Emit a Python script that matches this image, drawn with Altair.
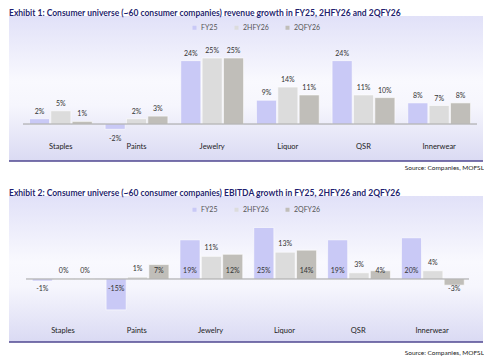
import altair as alt
import pandas as pd

categories = ["Staples", "Paints", "Jewelry", "Liquor", "QSR", "Innerwear"]
series = ["FY25", "2HFY26", "2QFY26"]

rev_fy25 = [2, -2, 24, 9, 24, 8]
rev_2hfy26 = [5, 2, 25, 14, 11, 7]
rev_2qfy26 = [1, 3, 25, 11, 10, 8]

ebitda_fy25 = [-1, -15, 19, 25, 19, 20]
ebitda_2hfy26 = [0, 1, 11, 13, 3, 4]
ebitda_2qfy26 = [0, 7, 12, 14, 4, -3]

title1 = "Exhibit 1: Consumer universe (~60 consumer companies) revenue growth in FY25, 2HFY26 and 2QFY26"
title2 = "Exhibit 2: Consumer universe (~60 consumer companies) EBITDA growth in FY25, 2HFY26 and 2QFY26"
source_text = "Source: Companies, MOFSL"

colors = ["#C9C9F6", "#DCDCDC", "#C0BEB9"]
FONT = "Lato"


def make_df(a, b, c):
    rows = []
    for i, cat in enumerate(categories):
        for s, vals in zip(series, [a, b, c]):
            v = vals[i]
            rows.append({"category": cat, "series": s, "value": v,
                         "label": f"{v}%", "base": 0})
    return pd.DataFrame(rows)


gradient = alt.LinearGradient(
    gradient="linear",
    stops=[
        alt.GradientStop(color="#E1E1F8", offset=0),
        alt.GradientStop(color="#F9F9FE", offset=0.45),
        alt.GradientStop(color="#F6F6FD", offset=0.62),
        alt.GradientStop(color="#DADAF3", offset=1),
    ],
    x1=0, x2=0, y1=0, y2=1,
)


def panel(df, title, width, height, ydom, xrange, legend_y, cat_y, src_y,
          bg_left, bg_right, ebitda=False):
    xs = alt.Scale(paddingInner=0.17, paddingOuter=0.085, range=xrange)
    x = alt.X("category:N", sort=categories, scale=xs, axis=None)
    xo = alt.XOffset("series:N", sort=series, scale=alt.Scale(paddingInner=0.06))
    ys = alt.Scale(domain=ydom, nice=False, zero=False)

    one = pd.DataFrame({"k": [0]})
    bg = alt.Chart(one).mark_rect(fill=gradient).encode(
        x=alt.value(bg_left), x2=alt.value(bg_right),
        y=alt.value(0), y2=alt.value(height))
    border = alt.Chart(one).mark_rule(color="#4F4790", strokeWidth=1.5).encode(
        x=alt.value(bg_left), x2=alt.value(bg_right), y=alt.value(height))
    src = alt.Chart(one).mark_text(align="right", baseline="middle", fontSize=6.5,
                                   font=FONT, color="#222").encode(
        x=alt.value(bg_right + 1), y=alt.value(src_y), text=alt.value(source_text))

    base = alt.Chart(df)
    bars = base.mark_bar(stroke="white", strokeWidth=0.6).encode(
        x=x, xOffset=xo,
        y=alt.Y("value:Q", scale=ys, axis=None),
        color=alt.Color("series:N", scale=alt.Scale(domain=series, range=colors),
                        legend=alt.Legend(orient="none", legendX=168, legendY=legend_y,
                                          direction="horizontal", title=None,
                                          symbolType="square", symbolSize=16,
                                          symbolStrokeWidth=0, labelFontSize=7,
                                          labelFont=FONT, labelColor="#555",
                                          labelOffset=3, columnPadding=15)),
    )
    zero = alt.Chart(pd.DataFrame({"base": [0]})).mark_rule(
        color="#A0A0A0", strokeWidth=1).encode(
        y=alt.Y("base:Q", scale=ys, axis=None),
        x=alt.value(xrange[0]), x2=alt.value(xrange[1]))

    tkw = dict(fontSize=7, font=FONT, color="#333")
    layers = [bg, border, src, bars, zero]
    if not ebitda:
        layers.append(base.transform_filter("datum.value >= 0").mark_text(
            baseline="bottom", dy=-4, **tkw).encode(
            x=x, xOffset=xo, y=alt.Y("value:Q", scale=ys, axis=None), text="label:N"))
        layers.append(base.transform_filter("datum.value < 0").mark_text(
            baseline="top", dy=6, **tkw).encode(
            x=x, xOffset=xo, y=alt.Y("value:Q", scale=ys, axis=None), text="label:N"))
    else:
        inb = "datum.series != '2HFY26'"
        layers.append(base.transform_filter(inb + " && datum.value >= 0").mark_text(
            baseline="bottom", dy=-5, **tkw).encode(
            x=x, xOffset=xo, y=alt.Y("base:Q", scale=ys, axis=None), text="label:N"))
        layers.append(base.transform_filter(inb + " && datum.value < 0").mark_text(
            baseline="top", dy=6, **tkw).encode(
            x=x, xOffset=xo, y=alt.Y("base:Q", scale=ys, axis=None), text="label:N"))
        layers.append(base.transform_filter("datum.series == '2HFY26'").mark_text(
            baseline="bottom", dy=-5, **tkw).encode(
            x=x, xOffset=xo, y=alt.Y("value:Q", scale=ys, axis=None), text="label:N"))

    cats = alt.Chart(pd.DataFrame({"category": categories})).mark_text(
        fontSize=7.5, font=FONT, color="#222", baseline="middle").encode(
        x=x, y=alt.value(cat_y), text="category:N")
    layers.append(cats)

    return alt.layer(*layers).properties(
        width=width, height=height,
        title=alt.TitleParams(text=title, anchor="start", dx=bg_left, fontSize=8.5,
                              font=FONT, fontWeight="bold", color="#1F1F70",
                              offset=-1, frame="group"),
    )


ex1 = panel(make_df(rev_fy25, rev_2hfy26, rev_2qfy26), title1,
            width=454, height=145, ydom=[-14.0, 40.9], xrange=[0, 454],
            legend_y=8, cat_y=131, src_y=152, bg_left=-14, bg_right=460)
ex2 = panel(make_df(ebitda_fy25, ebitda_2hfy26, ebitda_2qfy26), title2,
            width=446, height=146, ydom=[-30.6, 40.3], xrange=[3, 446],
            legend_y=10, cat_y=135, src_y=157, bg_left=-14, bg_right=460, ebitda=True)

chart = alt.vconcat(ex1, ex2, spacing=16).properties(
    padding={"left": 0, "top": 0, "right": 0, "bottom": 0}
).configure_view(stroke=None).resolve_scale(color="independent")

chart.save("out.html", embed_options={"renderer": "svg", "actions": False})
